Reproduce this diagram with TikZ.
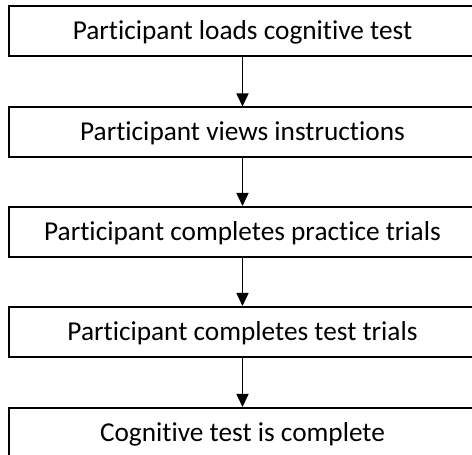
\documentclass[tikz,border=0pt]{standalone}
\usepackage{fontspec}
\setmainfont[Ligatures=CommonOff]{Carlito}
\usetikzlibrary{arrows.meta}
\begin{document}
\begin{tikzpicture}[x=1pt,y=1pt,
  stepbox/.style={draw=black, line width=2pt, rectangle, minimum width=467pt, minimum height=50pt,
    font=\fontsize{27.3}{31}\selectfont, text height=16.5pt, text depth=0pt, inner sep=0pt},
  flow/.style={line width=1.5pt, -{Triangle[width=12pt,length=13pt]}}]
\useasboundingbox (0,0) rectangle (472,455);
\node[stepbox] (b1) at (242.5,424) {Participant loads cognitive test};
\node[stepbox] (b2) at (242.5,322.5) {Participant views instructions};
\node[stepbox] (b3) at (242.5,223) {Participant completes practice trials};
\node[stepbox] (b4) at (242.5,123) {Participant completes test trials};
\node[stepbox] (b5) at (242.5,22) {Cognitive test is complete};
\draw[flow] (b1.south) -- (b2.north);
\draw[flow] (b2.south) -- (b3.north);
\draw[flow] (b3.south) -- (b4.north);
\draw[flow] (b4.south) -- (b5.north);
\end{tikzpicture}
\end{document}
